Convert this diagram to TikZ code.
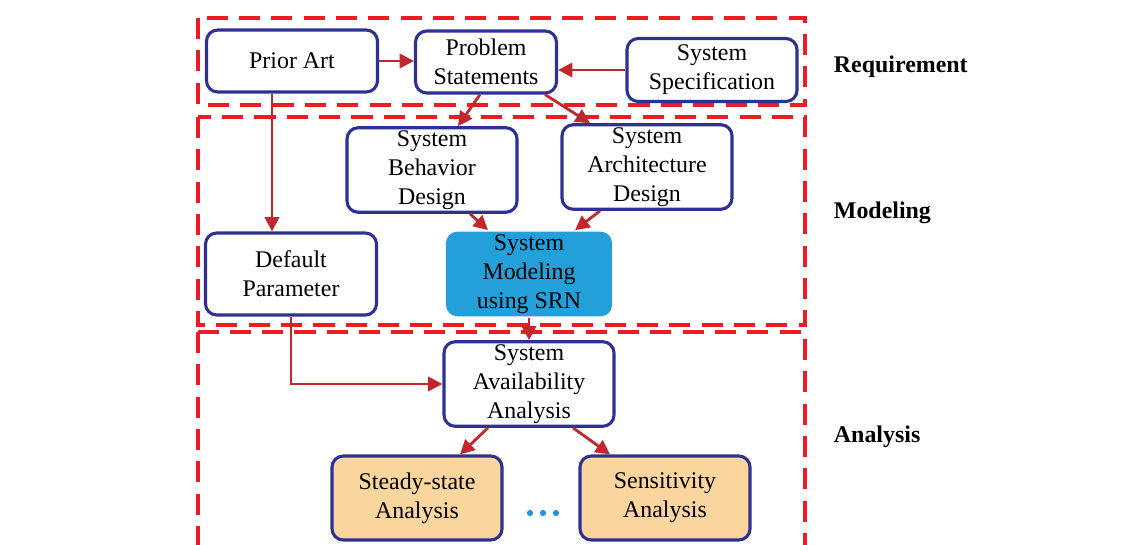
\documentclass[tikz,border=0pt]{standalone}
\usepackage{fontspec}
\setmainfont{Liberation Serif}
\usepackage{xcolor}
\usepackage{tikz}
\usetikzlibrary{positioning,calc,arrows.meta,shapes.geometric}

\definecolor{boxblue}{RGB}{46,49,146}
\definecolor{arrred}{RGB}{193,39,45}
\definecolor{regred}{RGB}{237,28,36}
\definecolor{srnblue}{RGB}{35,159,218}
\definecolor{anaorange}{RGB}{250,213,157}
\definecolor{dotblue}{RGB}{30,150,220}

\tikzset{
	box/.style={draw=boxblue, line width=2.2pt, rounded corners=8pt, fill=white, align=center,
		minimum width=4.275cm, font=\fontsize{17}{20.6}\selectfont, inner sep=2pt},
	srnbox/.style={box, fill=srnblue},
	anabox/.style={box, fill=anaorange},
	region/.style={draw=regred, line width=2.2pt, dash pattern=on 15pt off 8pt},
	arr/.style={draw=arrred, line width=2pt, -{Triangle[length=3.6mm,width=3.6mm]}},
	lbl/.style={anchor=west, font=\fontsize{17}{20}\selectfont\bfseries}
}

\begin{document}
\begin{tikzpicture}[x=0.025cm, y=-0.025cm]
	\useasboundingbox (0,0) rectangle (1145,545);
	\clip (0,0) rectangle (1145,545);

	\draw[region] (198,18) rectangle (805,105);
	\draw[region] (198,117) rectangle (805,325);
	\draw[region] (198,332) rectangle (805,560);

	\node[box, minimum height=1.55cm] (pa) at (292,61) {Prior Art};
	\node[box, minimum height=1.55cm, minimum width=3.525cm] (ps) at (486,62) {Problem\\Statements};
	\node[box, minimum height=1.575cm, minimum width=4.25cm] (spec) at (712,70) {System\\Specification};

	\node[box, minimum height=2.1cm, minimum width=4.25cm] (beh) at (432,170) {System\\Behavior\\Design};
	\node[box, minimum height=2.1cm, minimum width=4.25cm] (arch) at (647,167) {System\\Architecture\\Design};
	\node[box, minimum height=2.05cm] (dp) at (291,274) {Default\\Parameter};
	\node[srnbox, minimum height=1.975cm, minimum width=4.15cm, draw=none] (mod) at (529,274) {System\\Modeling\\using SRN};

	\node[box, minimum height=2.075cm, minimum width=4.25cm] (av) at (529,384) {System\\Availability\\Analysis};
	\node[anabox, minimum height=2.1cm, minimum width=4.25cm] (ss) at (417,498) {Steady-state\\Analysis};
	\node[anabox, minimum height=2.1cm, minimum width=4.25cm] (sen) at (665,498) {Sensitivity\\Analysis};
	\foreach \dx in {-13,0,13}
		\fill[dotblue] (543+\dx,513) circle (2.2pt);

	\node[lbl] (lreq) at (829,67) {Requirement};
	\node[lbl] (lmod) at (829,213) {Modeling};
	\node[lbl] (lana) at (829,437) {Analysis};

	\draw[arr] (pa.east) -- (pa.east -| ps.west);
	\draw[arr] (spec.west) -- (spec.west -| ps.east);
	\draw[arr] ($(ps.south)+(-6,0)$) -- ($(beh.north)+(26,0)$);
	\draw[arr] ($(ps.south)+(59,0)$) -- ($(arch.north)+(-57,0)$);
	\draw[arr] ($(pa.south)+(-20,0)$) coordinate (c1) -- (c1 |- dp.north);
	\draw[arr] ($(beh.south)+(38,0)$) -- ($(mod.north)+(-41,0)$);
	\draw[arr] ($(arch.south)+(-47,0)$) -- ($(mod.north)+(46,0)$);
	\draw[arr] (mod.south) -- (av.north);
	\draw[arr] (dp.south) |- (av.west);
	\draw[arr] ($(av.south)+(-41,0)$) -- ($(ss.north)+(43,0)$);
	\draw[arr] ($(av.south)+(44,0)$) -- ($(sen.north)+(-55,0)$);
\end{tikzpicture}
\end{document}
